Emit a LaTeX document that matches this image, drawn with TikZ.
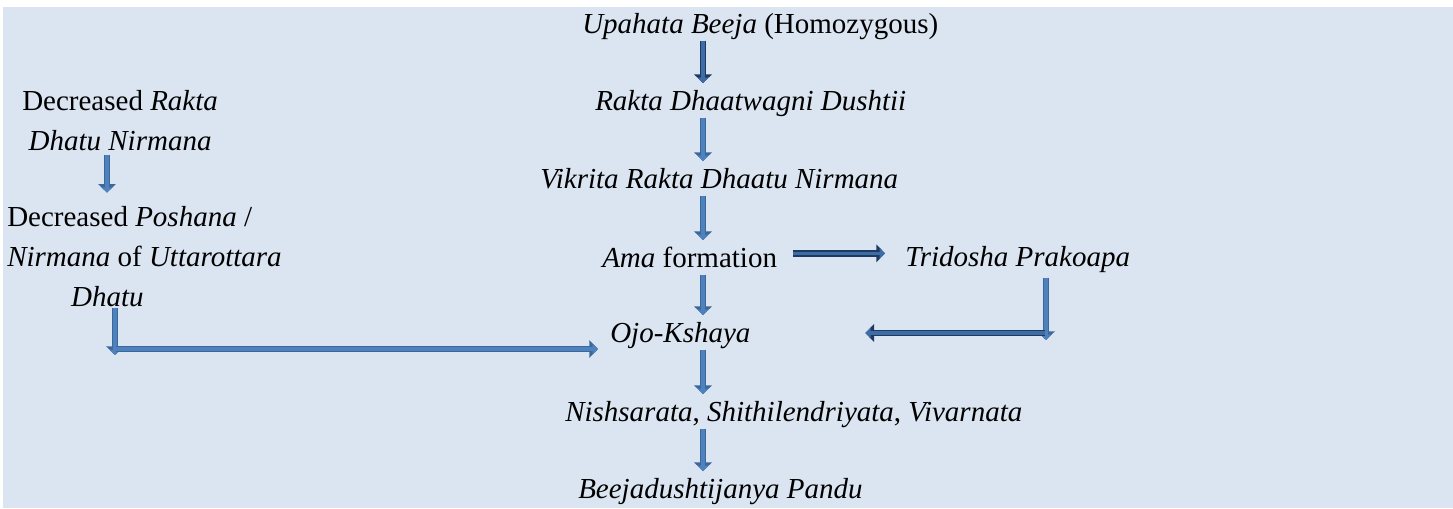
\documentclass[tikz,border=0pt]{standalone}
\usepackage{fontspec}
\setmainfont{Liberation Serif}
\usetikzlibrary{arrows.meta}
\definecolor{bgblue}{HTML}{DBE5F1}
\definecolor{arrfill}{HTML}{4F81BD}
\definecolor{arredge}{HTML}{3A679C}
\definecolor{darkfill}{HTML}{3E6DA6}
\definecolor{darkedge}{HTML}{1F3A60}

\begin{document}
\begin{tikzpicture}[x=0.75pt,y=-0.75pt,
font=\fontsize{21.75pt}{30pt}\selectfont,
txt/.style={inner sep=0pt, text height=15pt, text depth=4.5pt, anchor=base west},
blk/.style={inner sep=0pt, anchor=north west},
arr/.style 2 args={draw=#1, line width=2.4pt, shorten >=5pt, shorten <=1pt,
  -{Triangle[length=4pt,width=8pt]},
  preaction={draw=#2, line width=5pt, -{Triangle[length=6.5pt,width=13pt]}}},
barrow/.style={arr={arrfill}{arredge}},
darrow/.style={arr={darkfill}{darkedge}}]
\useasboundingbox (0,0) rectangle (1453,508);
\fill[bgblue] (3,7) rectangle (1453,508);

% main column
\node[txt] (upahata) at (582,33) {\textit{Upahata Beeja} (Homozygous)};
\node[txt] (rakta) at (595,110) {\textit{Rakta Dhaatwagni Dushtii}};
\node[txt] (vikrita) at (540,188) {\textit{Vikrita Rakta Dhaatu Nirmana}};
\node[txt] (ama) at (602,267) {\textit{Ama} formation};
\node[txt] (tridosha) at (905,266) {\textit{Tridosha Prakoapa}};
\node[txt] (ojo) at (610,342) {\textit{Ojo-Kshaya}};
\node[txt] (nish) at (565,421) {\textit{Nishsarata}, \textit{Shithilendriyata}, \textit{Vivarnata}};
\node[txt] (beeja) at (578,498) {\textit{Beejadushtijanya Pandu}};

% left column
\node[blk, align=center] (decr) at (22,90) {Decreased \textit{Rakta}\\\textit{Dhatu Nirmana}};
\node[blk, align=left] (posh) at (7,206) {Decreased \textit{Poshana} /\\\textit{Nirmana} of \textit{Uttarottara}\\\hspace*{2.2em}\textit{Dhatu}};

\coordinate (axis) at (703,0);
\coordinate (laxis) at (107,0);
\coordinate (lbend) at (115,355);
\coordinate (lturn) at (115,349);
\coordinate (rbend) at (1046,340);
\coordinate (rturn) at (1046,333);

\draw[darrow] (upahata.south -| axis) -- (rakta.north -| axis);
\draw[barrow] (rakta.south -| axis) -- (vikrita.north -| axis);
\draw[barrow] (vikrita.south -| axis) -- (ama.north -| axis);
\draw[barrow] (ama.south -| axis) -- (ojo.north -| axis);
\draw[barrow] (ojo.south -| axis) -- (nish.north -| axis);
\draw[barrow] (nish.south -| axis) -- (beeja.north -| axis);
\draw[darrow, shorten <=12pt, shorten >=15pt] ([yshift=5pt]ama.east) -- ([yshift=5pt]ama.east -| tridosha.west);

\draw[barrow, shorten >=10pt, shorten <=3pt] (decr.south -| laxis) -- (posh.north -| laxis);
\draw[barrow, shorten >=0pt] (posh.south -| lbend) -- (lbend);
\draw[barrow, shorten >=9pt] (lturn) -- (lturn -| ojo.west);
\draw[barrow, shorten >=0pt, shorten <=4pt] (tridosha.south -| rbend) -- (rbend);
\draw[darrow, shorten >=86pt] (rturn) -- (rturn -| ojo.east);
\end{tikzpicture}
\end{document}
